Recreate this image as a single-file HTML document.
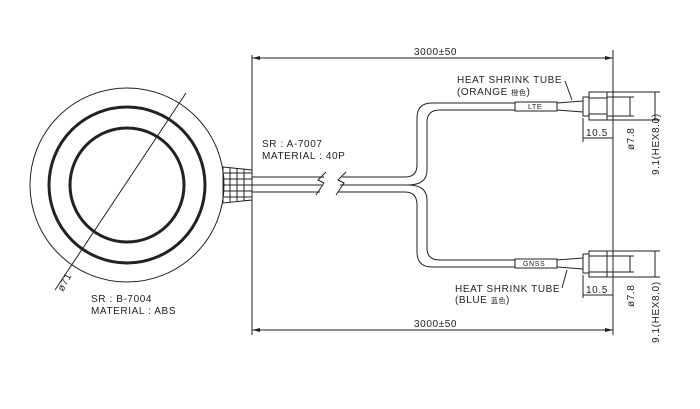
<!DOCTYPE html>
<html><head><meta charset="utf-8"><style>
html,body{margin:0;padding:0;background:#fff}
svg{display:block}
text{font-family:"Liberation Sans","Noto Sans CJK SC",sans-serif;font-size:10px;fill:#222;letter-spacing:0.6px}
</style></head><body>
<svg width="700" height="409" viewBox="0 0 700 409" xmlns="http://www.w3.org/2000/svg">
<g fill="none" stroke="#222" stroke-width="1">
<!-- antenna -->
<circle cx="127" cy="185" r="97"/>
<circle cx="127" cy="185" r="78" stroke-width="3"/>
<circle cx="127" cy="185" r="57" stroke-width="3"/>
<line x1="186" y1="93" x2="55" y2="290"/>
<!-- strain relief -->
<path d="M223 167 L252 170 L252 200 L223 203 Z"/>
<line x1="230" y1="168" x2="230" y2="202"/><line x1="237" y1="168" x2="237" y2="202"/><line x1="244" y1="169" x2="244" y2="201"/>
<line x1="223" y1="173" x2="252" y2="173"/><line x1="223" y1="179" x2="252" y2="179"/><line x1="223" y1="185" x2="252" y2="185"/><line x1="223" y1="191" x2="252" y2="191"/><line x1="223" y1="197" x2="252" y2="197"/>
<!-- cables -->
<line x1="252" y1="177" x2="324" y2="177"/><line x1="252" y1="185" x2="322" y2="185"/><line x1="252" y1="192" x2="320" y2="192"/>
<path d="M326 172 L318 180 L324 183 L316 195"/><path d="M346 172 L338 180 L344 183 L336 195"/>
<path d="M342 177 L405 177 Q417 177 417 165 L417 118 Q417 103 432 103 L515 103"/>
<path d="M340 185 L408 185 Q427 185 427 170 L427 122 Q427 110 440 110 L515 110"/>
<path d="M340 185 L408 185 Q427 185 427 200 L427 248 Q427 260 440 260 L515 260"/>
<path d="M338 192 L405 192 Q417 192 417 205 L417 252 Q417 267 432 267 L515 267"/>
<!-- upper connector -->
<rect x="515" y="102" width="42" height="9"/>
<path d="M557 103 L583 101 M557 110 L583 112"/>
<rect x="583" y="97" width="6" height="19"/>
<rect x="589" y="92" width="18" height="28"/>
<line x1="589" y1="98" x2="607" y2="98"/><line x1="589" y1="114" x2="607" y2="114"/>
<line x1="607" y1="92" x2="660" y2="92"/><line x1="607" y1="120" x2="660" y2="120"/>
<line x1="607" y1="97" x2="634" y2="97"/><line x1="607" y1="116" x2="634" y2="116"/>
<line x1="583" y1="118" x2="583" y2="142"/>
<line x1="583" y1="138" x2="613" y2="138"/>
<line x1="630" y1="97" x2="630" y2="116"/>
<line x1="655" y1="92" x2="655" y2="120"/>
<line x1="565" y1="81" x2="572" y2="100"/>
<!-- lower connector -->
<rect x="515" y="259" width="42" height="9"/>
<path d="M557 260 L583 258 M557 267 L583 269"/>
<rect x="583" y="254" width="6" height="19"/>
<rect x="589" y="251" width="18" height="26"/>
<line x1="589" y1="256" x2="607" y2="256"/><line x1="589" y1="272" x2="607" y2="272"/>
<line x1="607" y1="251" x2="660" y2="251"/><line x1="607" y1="277" x2="660" y2="277"/>
<line x1="607" y1="256" x2="634" y2="256"/><line x1="607" y1="272" x2="634" y2="272"/>
<line x1="583" y1="275" x2="583" y2="298"/>
<line x1="583" y1="295" x2="613" y2="295"/>
<line x1="630" y1="256" x2="630" y2="272"/>
<line x1="655" y1="251" x2="655" y2="277"/>
<line x1="567" y1="270" x2="562" y2="288"/>
<!-- dimension lines -->
<line x1="252" y1="55" x2="252" y2="335"/>
<line x1="613" y1="50" x2="613" y2="335"/>
<line x1="252" y1="58" x2="613" y2="58"/>
<line x1="252" y1="330" x2="613" y2="330"/>
</g>
<g fill="#222">
<path d="M252 58 l8 -2 v4 z M613 58 l-8 -2 v4 z M252 330 l8 -2 v4 z M613 330 l-8 -2 v4 z"/>
</g>
<text x="414" y="55">3000±50</text>
<text x="414" y="327">3000±50</text>
<text x="457" y="83">HEAT SHRINK TUBE</text>
<text x="457" y="95">(ORANGE <tspan font-size="7">橙色</tspan>)</text>
<text x="455" y="292">HEAT SHRINK TUBE</text>
<text x="455" y="303">(BLUE <tspan font-size="7">蓝色</tspan>)</text>
<text x="528" y="109" style="font-size:7px">LTE</text>
<text x="523" y="266" style="font-size:7px">GNSS</text>
<text x="586" y="136">10.5</text>
<text x="586" y="293">10.5</text>
<text transform="translate(634,150) rotate(-90)">ø7.8</text>
<text transform="translate(634,307) rotate(-90)">ø7.8</text>
<text transform="translate(659,175) rotate(-90)">9.1(HEX8.0)</text>
<text transform="translate(659,343) rotate(-90)">9.1(HEX8.0)</text>
<text x="262" y="147">SR : A-7007</text>
<text x="262" y="159">MATERIAL : 40P</text>
<text x="91" y="302">SR : B-7004</text>
<text x="91" y="314">MATERIAL : ABS</text>
<text transform="translate(63,292) rotate(-62)">ø71</text>
</svg>
</body></html>
